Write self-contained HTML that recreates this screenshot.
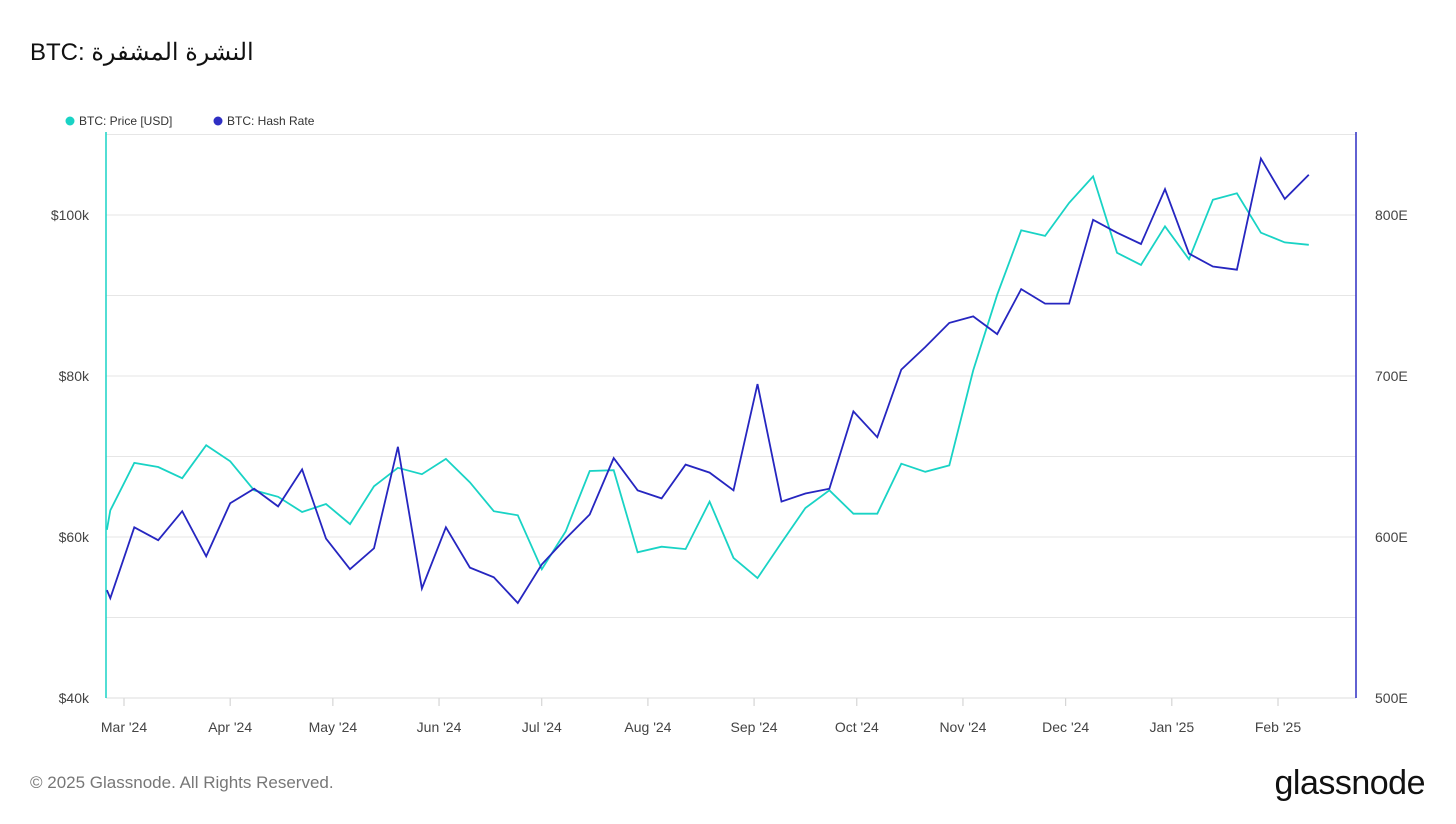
<!DOCTYPE html>
<html><head><meta charset="utf-8"><style>
body{margin:0;background:#fff;width:1456px;height:819px;overflow:hidden;font-family:"Liberation Sans","Noto Sans CJK SC",sans-serif;}
svg text{font-family:"Liberation Sans","Noto Sans CJK SC",sans-serif;}
</style></head><body>
<svg id="c" width="1456" height="819">
<text x="30" y="60" font-size="24" fill="#111">BTC: النشرة المشفرة</text>
<g>
<circle cx="70" cy="121" r="4.5" fill="#19d3c5"/>
<text x="79" y="125" font-size="12" fill="#333">BTC: Price [USD]</text>
<circle cx="218" cy="121" r="4.5" fill="#2f2fc4"/>
<text x="227" y="125" font-size="12" fill="#333">BTC: Hash Rate</text>
</g>
<g id="grid"></g><g id="axes"></g><g id="lines"></g>
<text x="30" y="788" font-size="17" fill="#777">© 2025 Glassnode. All Rights Reserved.</text>
<text x="1425" y="794" font-size="34" fill="#111" text-anchor="end" letter-spacing="-0.5">glassnode</text>
</svg>
<script>
const days=[-5,-4,3,10,17,24,31,38,45,52,59,66,73,80,87,94,101,108,115,122,129,136,143,150,157,164,171,178,185,192,199,206,213,220,227,234,241,248,255,262,269,276,283,290,297,304,311,318,325,332,339,346];
const price=[60.9,63.3,69.2,68.7,67.3,71.4,69.4,65.8,65.0,63.1,64.1,61.6,66.3,68.6,67.8,69.7,66.8,63.2,62.7,56.0,60.7,68.2,68.3,58.1,58.8,58.5,64.4,57.4,54.9,59.3,63.6,65.8,62.9,62.9,69.1,68.1,68.9,80.7,90.1,98.1,97.4,101.5,104.8,95.3,93.8,98.6,94.5,101.9,102.7,97.8,96.6,96.3];
const hash=[567,562,606,598,616,588,621,630,619,642,599,580,593,656,568,606,581,575,559,583,599,614,649,629,624,645,640,629,695,622,627,630,678,662,704,718,733,737,726,754,745,745,797,789,782,816,776,768,766,835,810,825];
const leftTicks=[40,60,80,100];
const rightTicks=[500,600,700,800];
const monthLabels=["Mar '24","Apr '24","May '24","Jun '24","Jul '24","Aug '24","Sep '24","Oct '24","Nov '24","Dec '24","Jan '25","Feb '25"];
const monthDays=[0,31,61,92,122,153,184,214,245,275,306,337];
const NS="http://www.w3.org/2000/svg";
const X=d=>124+d*3.4243;
const YL=v=>698-(v-40)*161/20;
const YR=v=>698-(v-500)*161/100;
function mk(tag,attrs,parent,txt){const e=document.createElementNS(NS,tag);for(const k in attrs)e.setAttribute(k,attrs[k]);if(txt!==undefined)e.textContent=txt;document.getElementById(parent).appendChild(e);return e;}
for(let v=40;v<=110;v+=10){const g=mk('line',{x1:106,x2:1356,y1:YL(v),y2:YL(v),stroke:'#e6e6e6','stroke-width':1},'grid');

}
leftTicks.forEach(v=>{const t=mk('text',{x:89,y:YL(v)+5,'font-size':14,fill:'#444','text-anchor':'end'},'axes','$'+v+'k');

});
rightTicks.forEach(v=>{const t=mk('text',{x:1375,y:YR(v)+5,'font-size':14,fill:'#444'},'axes',v+'E');

});
monthLabels.forEach((m,i)=>{const x=X(monthDays[i]);
const tk=mk('line',{x1:x,x2:x,y1:698,y2:706,stroke:'#ccc'},'axes');


const t=mk('text',{x:x,y:732,'font-size':14,fill:'#444','text-anchor':'middle'},'axes',m);

});
const bl=mk('line',{x1:106,x2:1356,y1:698,y2:698,stroke:'#ddd'},'axes');


const la=mk('line',{x1:106,x2:106,y1:132,y2:698,stroke:'#19d3c5','stroke-width':1.5},'axes');


const ra=mk('line',{x1:1356,x2:1356,y1:132,y2:698,stroke:'#2f2fc4','stroke-width':1.5},'axes');


const pp=mk('path',{d:price.map((v,i)=>(i?'L':'M')+X(days[i]).toFixed(1)+','+YL(v).toFixed(1)).join(''),fill:'none',stroke:'#19d3c5','stroke-width':1.8},'lines');


const hp=mk('path',{d:hash.map((v,i)=>(i?'L':'M')+X(days[i]).toFixed(1)+','+YR(v).toFixed(1)).join(''),fill:'none',stroke:'#2626c0','stroke-width':1.8},'lines');


</script>
</body></html>
